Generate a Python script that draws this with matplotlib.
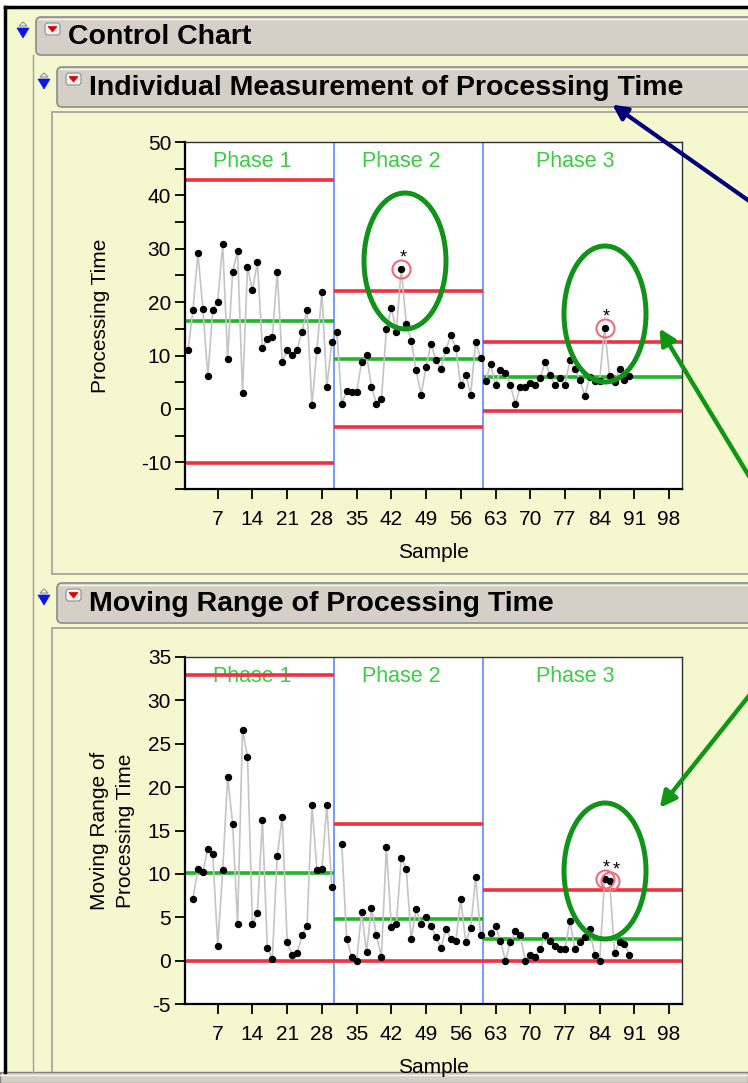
import matplotlib
matplotlib.use("Agg")
import matplotlib.pyplot as plt
from matplotlib.patches import Ellipse, FancyBboxPatch, Polygon, Rectangle

plt.rcParams['font.family'] = ['Liberation Sans', 'DejaVu Sans']
plt.rcParams['axes.unicode_minus'] = False

# individual measurements, samples 1..90, three phases of 30
phase_names = ['Phase 1', 'Phase 2', 'Phase 3']
phase_start = [1, 31, 61]
ind_p1 = [11.1, 18.5, 29.2, 18.8, 6.1, 18.5, 20.1, 30.9, 9.4, 25.6,
          29.6, 3.0, 26.6, 22.2, 27.6, 11.4, 13.1, 13.4, 25.6, 8.8,
          11.1, 10.1, 11.1, 14.5, 18.5, 0.7, 11.1, 21.9, 4.1, 12.5]
ind_p2 = [14.5, 1.0, 3.3, 3.1, 3.1, 8.8, 10.1, 4.1, 1.0, 1.8,
          14.9, 18.9, 14.5, 26.3, 16.0, 12.8, 7.2, 2.7, 7.8, 12.2,
          9.1, 7.5, 11.1, 13.8, 11.4, 4.4, 6.4, 2.7, 12.5, 9.5]
ind_p3 = [5.2, 8.4, 4.4, 7.3, 6.8, 4.4, 1.0, 4.1, 4.1, 4.8,
          4.4, 5.8, 8.8, 6.4, 4.4, 5.8, 4.4, 9.1, 7.5, 5.5,
          2.4, 6.0, 5.3, 5.3, 15.2, 6.1, 5.0, 7.4, 5.5, 6.1]
ind_ucl = [42.9, 22.1, 12.6]
ind_cl = [16.4, 9.4, 6.0]
ind_lcl = [-10.1, -3.4, -0.4]
ind_flags = [44, 85]

# moving ranges (restart in each phase, so first sample of a phase has none)
mr_p1 = [7.1, 10.6, 10.2, 12.9, 12.3, 1.7, 10.4, 21.2, 15.8, 4.2,
         26.6, 23.5, 4.2, 5.5, 16.2, 1.5, 0.2, 12.1, 16.6, 2.1,
         0.7, 0.9, 2.9, 4.0, 17.9, 10.4, 10.6, 17.9, 8.5]
mr_p2 = [13.5, 2.5, 0.4, 0.0, 5.6, 1.0, 6.1, 2.9, 0.4, 13.1,
         3.9, 4.2, 11.8, 10.6, 2.5, 5.9, 4.2, 5.0, 4.0, 2.7,
         1.5, 3.6, 2.5, 2.3, 7.1, 2.1, 3.8, 9.6, 2.9]
mr_p3 = [3.2, 4.0, 2.3, 0.0, 2.1, 3.4, 2.9, 0.0, 0.6, 0.4,
         1.3, 2.9, 2.3, 1.7, 1.3, 1.3, 4.6, 1.3, 2.1, 2.7,
         3.6, 0.7, 0.0, 9.4, 9.2, 0.9, 2.1, 1.9, 0.7]
mr_ucl = [32.9, 15.7, 8.1]
mr_cl = [10.1, 4.8, 2.5]
mr_lcl = [0.0, 0.0, 0.0]
mr_flags = [85, 86]

x_ticks = list(range(7, 99, 7))

W, H = 748, 1083
BG = '#f5f7cf'
RED = '#ee3040'
GRN = '#22b42a'
fig = plt.figure(figsize=(W / 100, H / 100), dpi=100)
fig.patch.set_facecolor('white')


def px(x, y, w, h):
    return [x / W, 1 - (y + h) / H, w / W, h / H]


# background / window chrome
bg = fig.add_axes([0, 0, 1, 1])
bg.set_xlim(0, W)
bg.set_ylim(H, 0)
bg.axis('off')
bg.add_patch(Rectangle((5, 7), W, H, fc=BG, ec='none'))
bg.plot([5, 5], [7, 1072], color='black', lw=2.5)
bg.plot([5, W], [7, 7], color='black', lw=2.5)


def header(x, y, h, text):
    bg.add_patch(FancyBboxPatch((x, y), W, h, boxstyle='round,pad=0,rounding_size=5',
                                fc='#d4d0c8', ec='#8c8c8c', lw=1.2))
    bg.plot([x + 3, W], [y + 2, y + 2], color='#f4f4f0', lw=1)
    # disclosure triangle
    tx, ty = x - 16, y + h / 2 - 3
    bg.add_patch(Polygon([[tx - 1, ty - 7], [tx + 3, ty - 11], [tx + 7, ty - 7]],
                         closed=True, fc='white', ec='#909090', lw=0.8))
    bg.add_patch(Polygon([[tx - 3, ty - 5], [tx + 9, ty - 5], [tx + 3, ty + 5]],
                         closed=True, fc='#0a14ee', ec='#0a14ee', lw=0.5))
    # red popup button
    bx, by = x + 9, y + 6
    bg.add_patch(FancyBboxPatch((bx, by), 15, 12, boxstyle='round,pad=0,rounding_size=3',
                                fc='#f2f2f2', ec='#909090', lw=0.8))
    bg.add_patch(Polygon([[bx + 3, by + 3.5], [bx + 12, by + 3.5], [bx + 7.5, by + 9]],
                         closed=True, fc='#e00000', ec='#e00000', lw=0.5))
    bg.text(x + 32, y + h / 2 + 1, text, fontsize=20.5, fontweight='bold',
            ha='left', va='center', color='black')


bg.plot([33, 33], [55, 1072], color='#a0a0a0', lw=1)
header(36, 17, 38, 'Control Chart')
header(57, 67, 40, 'Individual Measurement of Processing Time')
bg.add_patch(Rectangle((52, 112), W, 462, fc=BG, ec='#a0a0a0', lw=1.2))
header(57, 583, 40, 'Moving Range of Processing Time')
bg.add_patch(Rectangle((52, 628), W, 500, fc=BG, ec='#a0a0a0', lw=1.2))
bg.add_patch(Rectangle((0, 1072), W, 11, fc='#d4d0c8', ec='#808080', lw=1))
bg.plot([0, W], [1075, 1075], color='#f4f4f0', lw=1)

ind = [ind_p1, ind_p2, ind_p3]
mr = [mr_p1, mr_p2, mr_p3]


def chart(rect, series, first_offset, ucl, cl, lcl, flags, ylim, yticks, minor,
          ylabel, ylabelpad):
    ax = fig.add_axes(px(*rect))
    ax.set_facecolor('white')
    ax.set_zorder(2)
    edges = [0.4] + [s - 0.5 for s in phase_start[1:]] + [100.6]
    for k in range(3):
        xs = list(range(phase_start[k] + first_offset, phase_start[k] + first_offset + len(series[k])))
        ax.plot(xs, series[k], color='#c4c4c4', lw=1.2, zorder=3)
        ax.plot(xs, series[k], 'o', color='black', ms=4.3, zorder=4)
        n = 0
        for f in flags:
            if f in xs:
                v = series[k][xs.index(f)]
                ax.plot(f, v, 'o', mfc='none', mec='#f06a78', ms=13, mew=1.5, zorder=5)
                ax.annotate('*', (f, v), xytext=(2 + 5 * n, 11), textcoords='offset pixels',
                            ha='center', va='center', fontsize=13, zorder=6)
                n += 1
        ax.hlines([ucl[k], lcl[k]], edges[k], edges[k + 1], color=RED, lw=2.6, zorder=2)
        ax.hlines(cl[k], edges[k], edges[k + 1], color=GRN, lw=2.6, zorder=2)
        ax.text((edges[k] + edges[k + 1]) / 2 - 1.5, ylim[1] - (ylim[1] - ylim[0]) * 0.055,
                phase_names[k], color='#3ccc44', fontsize=15.5, ha='center', va='center', zorder=1)
    for e in edges[1:-1]:
        ax.axvline(e, color='#4f7fff', lw=1.1, zorder=1)
    ax.set_xlim(0.4, 100.6)
    ax.set_ylim(*ylim)
    ax.set_xticks(x_ticks)
    ax.set_yticks(yticks)
    if minor:
        ax.set_yticks(minor, minor=True)
    ax.tick_params(axis='both', which='major', direction='out', length=7, width=1.3,
                   labelsize=15, pad=3, color='black')
    ax.tick_params(axis='x', pad=8)
    ax.tick_params(axis='y', which='minor', direction='out', length=7, width=1.3)
    for s in ['left', 'bottom']:
        ax.spines[s].set_linewidth(1.6)
    for s in ['top', 'right']:
        ax.spines[s].set_linewidth(1.0)
        ax.spines[s].set_color('#303030')
    ax.set_xlabel('Sample', fontsize=15, labelpad=10)
    ax.set_ylabel(ylabel, fontsize=15, labelpad=ylabelpad, linespacing=1.45)
    return ax


chart((185, 142, 497, 347), ind, 0, ind_ucl, ind_cl, ind_lcl, ind_flags,
      (-15, 50), list(range(-10, 51, 10)), list(range(-15, 50, 10)),
      'Processing Time', 22)
chart((185, 657, 497, 347), mr, 1, mr_ucl, mr_cl, mr_lcl, mr_flags,
      (-5, 35), list(range(-5, 36, 5)), None,
      'Moving Range of\nProcessing Time', 9)

# annotations drawn on top
fg = fig.add_axes([0, 0, 1, 1])
fg.set_xlim(0, W)
fg.set_ylim(H, 0)
fg.axis('off')
fg.set_zorder(5)
fg.patch.set_alpha(0)
for cx, cy in [(405, 261), (605, 314), (605, 871)]:
    fg.add_patch(Ellipse((cx, cy), 82, 136, fill=False, ec='#11931a', lw=3.6))
fg.annotate('', xy=(610, 103), xytext=(752, 203),
            arrowprops=dict(arrowstyle='-|>', color='#00007a', lw=3, mutation_scale=22))
fg.annotate('', xy=(658, 326), xytext=(752, 481),
            arrowprops=dict(arrowstyle='-|>', color='#0f9612', lw=3.2, mutation_scale=24))
fg.annotate('', xy=(658, 810), xytext=(752, 692),
            arrowprops=dict(arrowstyle='-|>', color='#0f9612', lw=3.2, mutation_scale=24))

fig.savefig('out.png', dpi=100, facecolor=fig.get_facecolor())
